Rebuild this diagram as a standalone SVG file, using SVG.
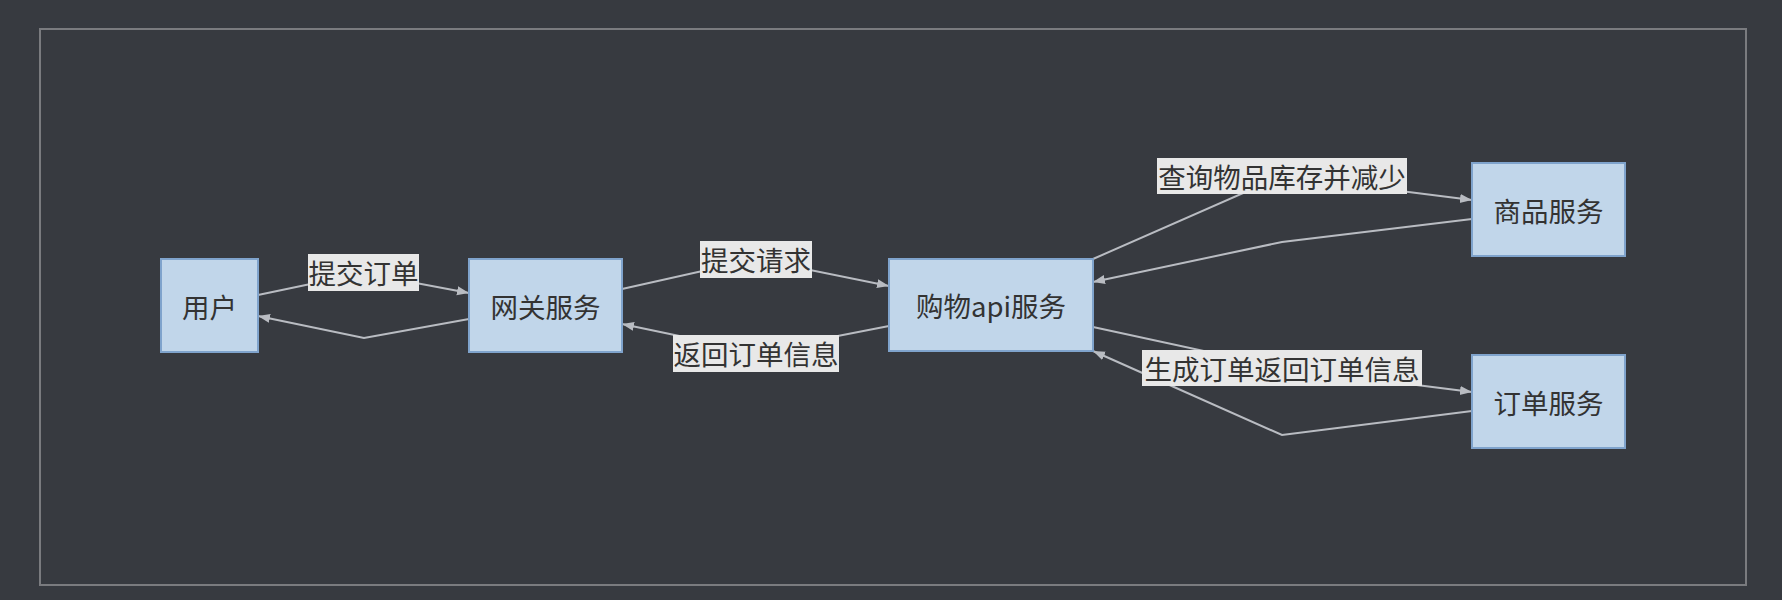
<svg xmlns="http://www.w3.org/2000/svg" width="1782" height="600" viewBox="0 0 1782 600">
<style>
.node rect{fill:#c1d6ea;stroke:#7fa3cc;stroke-width:2}
text{font-family:"Noto Sans CJK SC","Noto Sans",sans-serif;font-size:27.5px;fill:#333;text-anchor:middle;dominant-baseline:central}
.edge{fill:none;stroke:#b9bcc2;stroke-width:2}
.lbl rect{fill:#e8e8e8}
</style>
<defs>
<marker id="arr" markerUnits="userSpaceOnUse" markerWidth="14" markerHeight="10" refX="12" refY="4.5" orient="auto">
<path d="M0,0 L12,4.5 L0,9 z" fill="#b9bcc2"/>
</marker>
</defs>
<rect width="1782" height="600" fill="#373a40"/>
<rect x="40" y="29" width="1706" height="556" fill="none" stroke="#7a7b7f" stroke-width="2"/>
<g id="connectors">
<polyline class="edge" points="258,295 363,273 469,293" marker-end="url(#arr)"/>
<polyline class="edge" points="469,319 364,338 258,316" marker-end="url(#arr)"/>
<polyline class="edge" points="622,289 756,259 889,286" marker-end="url(#arr)"/>
<polyline class="edge" points="889,326 756,352 622,324" marker-end="url(#arr)"/>
<polyline class="edge" points="1093,259 1282,176 1472,200" marker-end="url(#arr)"/>
<polyline class="edge" points="1472,219 1282,242 1093,282" marker-end="url(#arr)"/>
<polyline class="edge" points="1093,327 1282,368 1472,392" marker-end="url(#arr)"/>
<polyline class="edge" points="1472,411 1282,435 1093,351" marker-end="url(#arr)"/>
<g class="lbl"><rect x="308" y="254" width="111" height="37"/><text x="363.5" y="272">提交订单</text></g>
<g class="lbl"><rect x="700" y="241" width="112" height="37"/><text x="756" y="259">提交请求</text></g>
<g class="lbl"><rect x="673" y="335" width="166" height="37"/><text x="756" y="353">返回订单信息</text></g>
<g class="lbl"><rect x="1157" y="158" width="250" height="36"/><text x="1282" y="176">查询物品库存并减少</text></g>
<g class="lbl"><rect x="1142" y="350" width="280" height="36"/><text x="1282" y="368">生成订单返回订单信息</text></g>
</g>
<g id="user" class="node"><rect x="161" y="259" width="97" height="93"/><text x="209.5" y="305.5">用户</text></g>
<g id="gateway" class="node"><rect x="469" y="259" width="153" height="93"/><text x="545.5" y="305.5">网关服务</text></g>
<g id="shop" class="node"><rect x="889" y="259" width="204" height="92"/><text x="991" y="305">购物api服务</text></g>
<g id="goods" class="node"><rect x="1472" y="163" width="153" height="93"/><text x="1548.5" y="209.5">商品服务</text></g>
<g id="order" class="node"><rect x="1472" y="355" width="153" height="93"/><text x="1548.5" y="401.5">订单服务</text></g>
</svg>
